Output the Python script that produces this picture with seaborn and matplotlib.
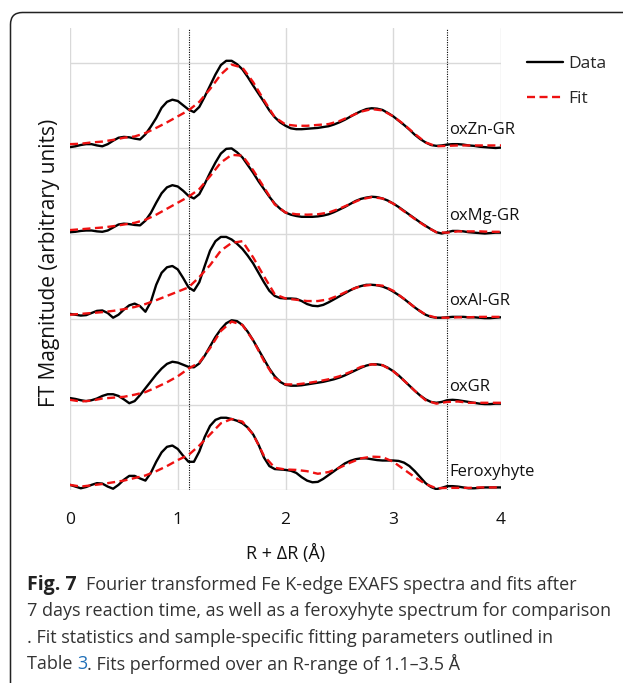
import numpy as np
import pandas as pd
import matplotlib
matplotlib.use("Agg")
import matplotlib.pyplot as plt
import seaborn as sns
from matplotlib.patches import FancyBboxPatch
from matplotlib.transforms import IdentityTransform

# ---------------- data ----------------
r_data = np.round(np.arange(81) * 0.05, 2)
r_fit = np.round(np.arange(41) * 0.1, 1)

samples = ["Feroxyhyte", "oxGR", "oxAl-GR", "oxMg-GR", "oxZn-GR"]

zn_data = [0.01, 0.02, 0.035, 0.045, 0.045, 0.03, 0.02, 0.045, 0.085, 0.12,
           0.13, 0.125, 0.11, 0.10, 0.16, 0.25, 0.35, 0.47, 0.54, 0.565,
           0.55, 0.50, 0.45, 0.42, 0.48, 0.60, 0.73, 0.86, 0.97, 1.02,
           1.02, 0.98, 0.92, 0.83, 0.73, 0.635, 0.54, 0.44, 0.36, 0.30,
           0.26, 0.23, 0.22, 0.22, 0.225, 0.23, 0.235, 0.245, 0.255, 0.275,
           0.30, 0.33, 0.365, 0.40, 0.43, 0.455, 0.465, 0.46, 0.445, 0.41,
           0.37, 0.32, 0.27, 0.215, 0.155, 0.105, 0.065, 0.035, 0.025, 0.03,
           0.04, 0.045, 0.045, 0.04, 0.03, 0.025, 0.015, 0.01, 0.005, 0.0,
           0.005]
mg_data = [0.015, 0.02, 0.03, 0.035, 0.035, 0.025, 0.02, 0.035, 0.07, 0.105,
           0.115, 0.11, 0.10, 0.095, 0.15, 0.24, 0.36, 0.47, 0.54, 0.565,
           0.55, 0.50, 0.44, 0.41, 0.46, 0.58, 0.71, 0.83, 0.935, 0.99,
           0.995, 0.95, 0.89, 0.80, 0.71, 0.61, 0.52, 0.43, 0.35, 0.29,
           0.245, 0.22, 0.205, 0.195, 0.195, 0.195, 0.20, 0.21, 0.225, 0.25,
           0.28, 0.31, 0.345, 0.38, 0.405, 0.42, 0.43, 0.425, 0.41, 0.385,
           0.35, 0.31, 0.265, 0.22, 0.175, 0.13, 0.09, 0.05, 0.015, 0.0,
           0.015, 0.03, 0.03, 0.025, 0.015, 0.01, 0.005, 0.0, 0.005, 0.01,
           0.01]
al_data = [0.06, 0.05, 0.04, 0.045, 0.07, 0.095, 0.10, 0.07, 0.015, 0.05,
           0.11, 0.16, 0.18, 0.15, 0.085, 0.20, 0.40, 0.54, 0.605, 0.62,
           0.58, 0.48, 0.37, 0.33, 0.43, 0.62, 0.80, 0.91, 0.96, 0.96,
           0.93, 0.88, 0.82, 0.74, 0.65, 0.54, 0.43, 0.33, 0.27, 0.245,
           0.24, 0.24, 0.235, 0.21, 0.175, 0.155, 0.15, 0.165, 0.195, 0.23,
           0.265, 0.30, 0.335, 0.365, 0.385, 0.40, 0.40, 0.395, 0.38, 0.355,
           0.32, 0.28, 0.235, 0.185, 0.135, 0.09, 0.05, 0.025, 0.015, 0.015,
           0.02, 0.025, 0.025, 0.025, 0.02, 0.02, 0.015, 0.01, 0.01, 0.015,
           0.02]
gr_data = [0.075, 0.065, 0.05, 0.04, 0.05, 0.07, 0.10, 0.12, 0.12, 0.10,
           0.06, 0.015, 0.04, 0.11, 0.19, 0.27, 0.35, 0.42, 0.475, 0.50,
           0.49, 0.465, 0.44, 0.435, 0.48, 0.57, 0.68, 0.79, 0.88, 0.95,
           0.985, 0.975, 0.93, 0.85, 0.75, 0.64, 0.53, 0.42, 0.33, 0.265,
           0.23, 0.22, 0.22, 0.225, 0.235, 0.245, 0.255, 0.265, 0.28, 0.295,
           0.315, 0.34, 0.37, 0.40, 0.43, 0.455, 0.47, 0.47, 0.46, 0.43,
           0.39, 0.34, 0.28, 0.22, 0.16, 0.105, 0.06, 0.03, 0.02, 0.03,
           0.05, 0.055, 0.05, 0.04, 0.03, 0.02, 0.01, 0.005, 0.005, 0.01,
           0.01]
fe_data = [0.06, 0.04, 0.02, 0.035, 0.06, 0.08, 0.075, 0.04, 0.015, 0.06,
           0.12, 0.165, 0.165, 0.135, 0.11, 0.20, 0.33, 0.44, 0.505, 0.52,
           0.48, 0.40, 0.33, 0.33, 0.45, 0.62, 0.75, 0.82, 0.845, 0.845,
           0.83, 0.81, 0.78, 0.73, 0.65, 0.53, 0.38, 0.28, 0.245, 0.24,
           0.235, 0.225, 0.20, 0.15, 0.11, 0.09, 0.095, 0.13, 0.175, 0.22,
           0.265, 0.31, 0.34, 0.36, 0.37, 0.37, 0.36, 0.35, 0.345, 0.345,
           0.345, 0.34, 0.32, 0.28, 0.22, 0.15, 0.08, 0.035, 0.01, 0.025,
           0.045, 0.045, 0.04, 0.03, 0.02, 0.02, 0.025, 0.03, 0.03, 0.03,
           0.03]

zn_fit = [0.045, 0.05, 0.065, 0.075, 0.095, 0.12, 0.135, 0.175, 0.235, 0.30,
          0.37, 0.44, 0.54, 0.69, 0.86, 0.975, 0.94, 0.77, 0.56, 0.36,
          0.275, 0.26, 0.26, 0.27, 0.28, 0.315, 0.37, 0.425, 0.455, 0.44,
          0.37, 0.275, 0.165, 0.065, 0.02, 0.025, 0.03, 0.03, 0.03, 0.03,
          0.03]
mg_fit = [0.04, 0.05, 0.06, 0.07, 0.085, 0.105, 0.125, 0.16, 0.22, 0.29,
          0.36, 0.43, 0.52, 0.67, 0.83, 0.92, 0.91, 0.74, 0.54, 0.34,
          0.245, 0.225, 0.22, 0.225, 0.245, 0.29, 0.345, 0.40, 0.425, 0.41,
          0.35, 0.26, 0.17, 0.085, 0.015, 0.01, 0.025, 0.025, 0.025, 0.02,
          0.02]
al_fit = [0.05, 0.06, 0.07, 0.08, 0.095, 0.115, 0.14, 0.175, 0.22, 0.27,
          0.32, 0.37, 0.49, 0.63, 0.80, 0.89, 0.91, 0.72, 0.50, 0.29,
          0.24, 0.225, 0.21, 0.21, 0.23, 0.28, 0.34, 0.385, 0.40, 0.39,
          0.33, 0.235, 0.135, 0.05, 0.015, 0.015, 0.02, 0.02, 0.025, 0.025,
          0.025]
gr_fit = [0.055, 0.035, 0.045, 0.07, 0.08, 0.09, 0.115, 0.145, 0.20, 0.26,
          0.33, 0.42, 0.49, 0.66, 0.86, 0.97, 0.93, 0.75, 0.51, 0.31,
          0.235, 0.235, 0.25, 0.27, 0.295, 0.33, 0.38, 0.44, 0.47, 0.46,
          0.39, 0.28, 0.16, 0.05, 0.01, 0.03, 0.035, 0.02, 0.02, 0.02,
          0.02]
fe_fit = [0.06, 0.04, 0.055, 0.07, 0.09, 0.11, 0.14, 0.17, 0.22, 0.28,
          0.35, 0.41, 0.52, 0.65, 0.78, 0.83, 0.80, 0.65, 0.40, 0.26,
          0.24, 0.235, 0.22, 0.19, 0.21, 0.26, 0.32, 0.37, 0.39, 0.385,
          0.33, 0.24, 0.15, 0.07, 0.02, 0.025, 0.025, 0.025, 0.03, 0.03,
          0.03]

data_by_sample = {"Feroxyhyte": fe_data, "oxGR": gr_data, "oxAl-GR": al_data,
                  "oxMg-GR": mg_data, "oxZn-GR": zn_data}
fit_by_sample = {"Feroxyhyte": fe_fit, "oxGR": gr_fit, "oxAl-GR": al_fit,
                 "oxMg-GR": mg_fit, "oxZn-GR": zn_fit}
fit_range = [1.1, 3.5]
x_ticks = [0, 1, 2, 3, 4]

# ---------------- styling / layout ----------------
sns.set_theme(style="white")
plt.rcParams["font.family"] = ["Open Sans", "DejaVu Sans"]

W, H = 623, 683
fig = plt.figure(figsize=(W / 100, H / 100), dpi=100)
ax = fig.add_axes([70 / W, 1 - 490 / H, 431 / W, (490 - 28.3) / H])

offsets = {name: i for i, name in enumerate(samples)}   # vertical stacking

df_data = pd.concat([pd.DataFrame({"r": r_data, "y": np.array(v) + offsets[k], "sample": k})
                     for k, v in data_by_sample.items()])
df_fit = pd.concat([pd.DataFrame({"r": r_fit, "y": np.array(v) + offsets[k], "sample": k})
                    for k, v in fit_by_sample.items()])

sns.lineplot(data=df_data, x="r", y="y", units="sample", estimator=None,
             color="black", lw=1.7, ax=ax, legend=False, zorder=3)
data_handle = ax.lines[-1]
sns.lineplot(data=df_fit, x="r", y="y", units="sample", estimator=None,
             color="#ee1111", lw=1.7, linestyle=(0, (3.4, 1.9)), ax=ax,
             legend=False, zorder=4)
fit_handle = ax.lines[-1]

for xv in fit_range:
    ax.axvline(xv, color="black", lw=0.8, linestyle=(0, (1, 1.2)), zorder=2)

for name in samples:
    ax.text(3.52, offsets[name] + 0.21, name, fontsize=12, va="center", ha="left",
            color="#111111", zorder=5)

ax.set_xlim(0, 4)
ax.set_ylim(0, 5.4)
ax.set_xticks(x_ticks)
ax.set_yticks(range(0, 6))
ax.set_yticklabels([])
ax.tick_params(length=0, labelsize=12.5, pad=16, colors="#111111")
ax.grid(True, color="#d9d9d9", lw=1.0)
ax.set_axisbelow(True)
for s in ax.spines.values():
    s.set_visible(False)
ax.set_xlabel("R + ΔR (Å)", fontsize=13, labelpad=11, color="#111111")
ax.set_ylabel("FT Magnitude (arbitrary units)", fontsize=15, color="#111111")
ax.yaxis.set_label_coords(-0.024, 0.493)

fig.legend([data_handle, fit_handle], ["Data", "Fit"], loc="upper left",
           bbox_to_anchor=(527 / W, 1 - 56 / H), frameon=False, fontsize=12.5,
           handlelength=2.05, handletextpad=0.3, labelspacing=1.1,
           borderpad=0, borderaxespad=0)

# figure frame
frame = FancyBboxPatch((10.5, -40), 700, H - 12.5 + 40,
                       boxstyle="round,pad=0,rounding_size=12",
                       transform=IdentityTransform(), fill=False,
                       edgecolor="#222222", lw=1.1)
fig.add_artist(frame)

# caption
renderer = fig.canvas.get_renderer()
cap_fs = 13.0
cap_x = 27 / W
line_y = [585, 611.5, 638, 664]
t = fig.text(cap_x, 1 - line_y[0] / H, "Fig. 7", fontsize=14, weight="bold",
             va="center", ha="left", color="#222222")
bb = t.get_window_extent(renderer)
fig.text((bb.x1 + 9) / W, 1 - line_y[0] / H,
         "Fourier transformed Fe K-edge EXAFS spectra and fits after",
         fontsize=cap_fs, va="center", ha="left", color="#333333")
fig.text(cap_x, 1 - line_y[1] / H,
         "7 days reaction time, as well as a feroxyhyte spectrum for comparison",
         fontsize=cap_fs, va="center", ha="left", color="#333333")
fig.text(cap_x, 1 - line_y[2] / H,
         ". Fit statistics and sample-specific fitting parameters outlined in",
         fontsize=cap_fs, va="center", ha="left", color="#333333")
t1 = fig.text(cap_x, 1 - line_y[3] / H, "Table ", fontsize=cap_fs, va="center",
              ha="left", color="#333333")
bb = t1.get_window_extent(renderer)
t2 = fig.text(bb.x1 / W, 1 - line_y[3] / H, "3", fontsize=cap_fs, va="center",
              ha="left", color="#1f6fb8")
bb = t2.get_window_extent(renderer)
fig.text(bb.x1 / W, 1 - line_y[3] / H, ". Fits performed over an R-range of 1.1–3.5 Å",
         fontsize=cap_fs, va="center", ha="left", color="#333333")

fig.savefig("out.png", dpi=100)
